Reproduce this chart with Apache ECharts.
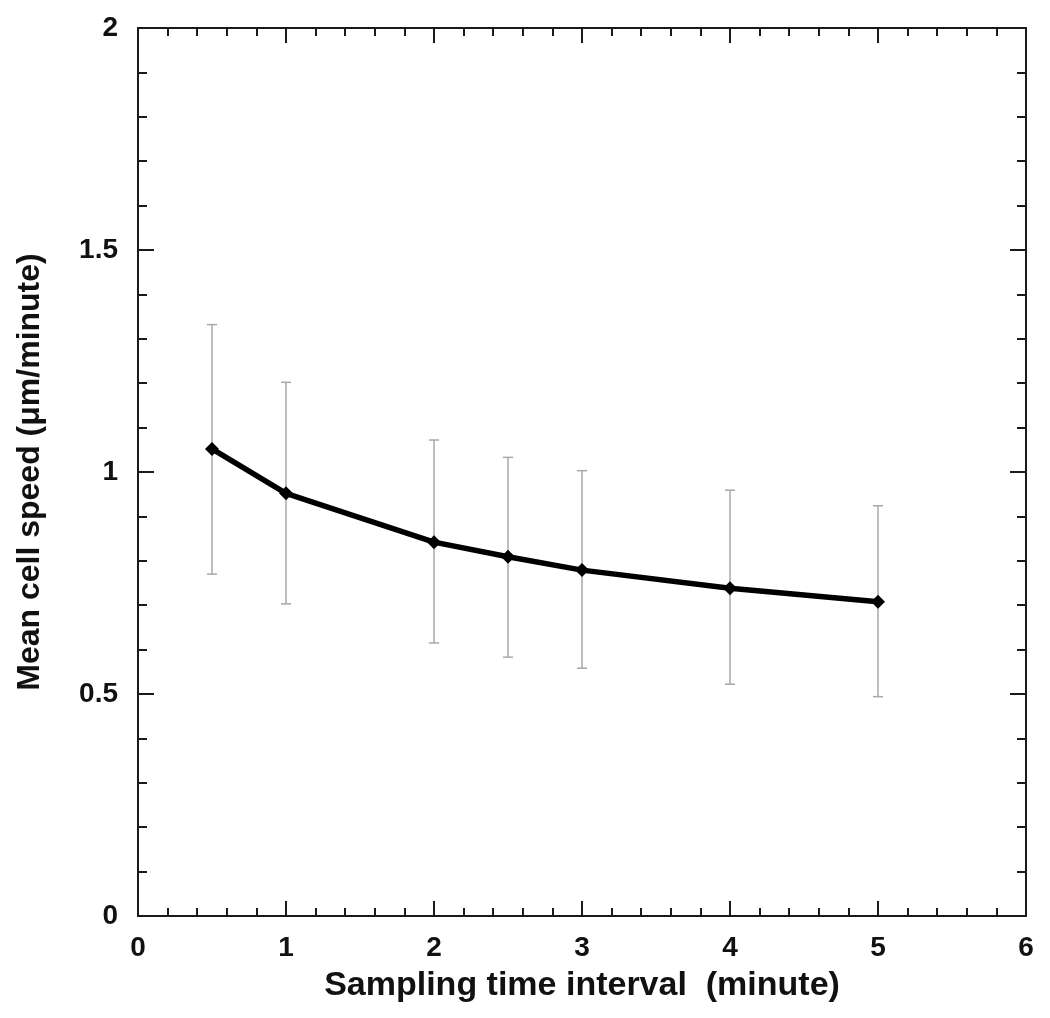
<!DOCTYPE html>
<html>
<head>
<meta charset="utf-8">
<title>Mean cell speed</title>
<script src="https://cdn.jsdelivr.net/npm/echarts@6/dist/echarts.min.js"></script>
<style>
  html, body { margin: 0; padding: 0; background: #fff; }
  #chart { width: 1050px; height: 1018px; }
</style>
</head>
<body>
<div id="chart"></div>
<script>
// sampling interval (minute)
const intervals = [0.5, 1, 2, 2.5, 3, 4, 5]
// mean cell speed (um/minute)
const meanSpeed = [1.052, 0.952, 0.842, 0.809, 0.779, 0.738, 0.708]
// error bar ends
const upperBar = [1.332, 1.202, 1.072, 1.033, 1.003, 0.959, 0.924]
const lowerBar = [0.770, 0.703, 0.615, 0.583, 0.558, 0.522, 0.494]

const font = 'Liberation Sans, Arial, Helvetica, sans-serif'

const chart = echarts.init(document.getElementById('chart'))

const tickStyle = { color: '#1a1a1a', width: 2 }

const baseX = {
  type: 'value',
  min: 0,
  max: 6,
  interval: 1,
  axisLine: { show: true, onZero: false, lineStyle: tickStyle },
  axisTick: { show: true, inside: true, length: 15, lineStyle: tickStyle },
  minorTick: { show: true, splitNumber: 5, length: 8, lineStyle: tickStyle },
  splitLine: { show: false },
  minorSplitLine: { show: false }
}
const baseY = {
  type: 'value',
  min: 0,
  max: 2,
  interval: 0.5,
  axisLine: { show: true, onZero: false, lineStyle: tickStyle },
  axisTick: { show: true, inside: true, length: 16, lineStyle: tickStyle },
  minorTick: { show: true, splitNumber: 5, length: 9, lineStyle: tickStyle },
  splitLine: { show: false },
  minorSplitLine: { show: false }
}

chart.setOption({
  backgroundColor: '#ffffff',
  animation: false,
  grid: { left: 138, top: 28, width: 888, height: 888 },
  xAxis: [
    Object.assign({}, baseX, {
      position: 'bottom',
      name: 'Sampling time interval  (minute)',
      nameLocation: 'middle',
      nameGap: 53,
      nameTextStyle: { fontFamily: font, fontWeight: 'bold', fontSize: 34, color: '#111' },
      axisLabel: { margin: 18, fontFamily: font, fontWeight: 'bold', fontSize: 28, color: '#111' }
    }),
    Object.assign({}, baseX, {
      position: 'top',
      axisLabel: { show: false }
    })
  ],
  yAxis: [
    Object.assign({}, baseY, {
      position: 'left',
      name: 'Mean cell speed (μm/minute)',
      nameLocation: 'middle',
      nameGap: 92,
      nameTextStyle: { fontFamily: font, fontWeight: 'bold', fontSize: 32, color: '#111' },
      axisLabel: { margin: 20, fontFamily: font, fontWeight: 'bold', fontSize: 28, color: '#111' }
    }),
    Object.assign({}, baseY, {
      position: 'right',
      axisLabel: { show: false }
    })
  ],
  series: [
    {
      name: 'error',
      type: 'custom',
      z: 1,
      data: intervals.map((x, i) => [x, lowerBar[i], upperBar[i]]),
      renderItem(params, api) {
        const lo = api.coord([api.value(0), api.value(1)])
        const hi = api.coord([api.value(0), api.value(2)])
        const cap = 5
        const style = { stroke: '#a8a8a8', lineWidth: 1.5 }
        return {
          type: 'group',
          children: [
            { type: 'line', shape: { x1: hi[0], y1: hi[1], x2: lo[0], y2: lo[1] }, style },
            { type: 'line', shape: { x1: hi[0] - cap, y1: hi[1], x2: hi[0] + cap, y2: hi[1] }, style },
            { type: 'line', shape: { x1: lo[0] - cap, y1: lo[1], x2: lo[0] + cap, y2: lo[1] }, style }
          ]
        }
      }
    },
    {
      name: 'speed',
      type: 'line',
      z: 3,
      data: intervals.map((x, i) => [x, meanSpeed[i]]),
      symbol: 'diamond',
      symbolSize: 14,
      lineStyle: { color: '#000', width: 5.5 },
      itemStyle: { color: '#000' }
    }
  ]
})
</script>
</body>
</html>
